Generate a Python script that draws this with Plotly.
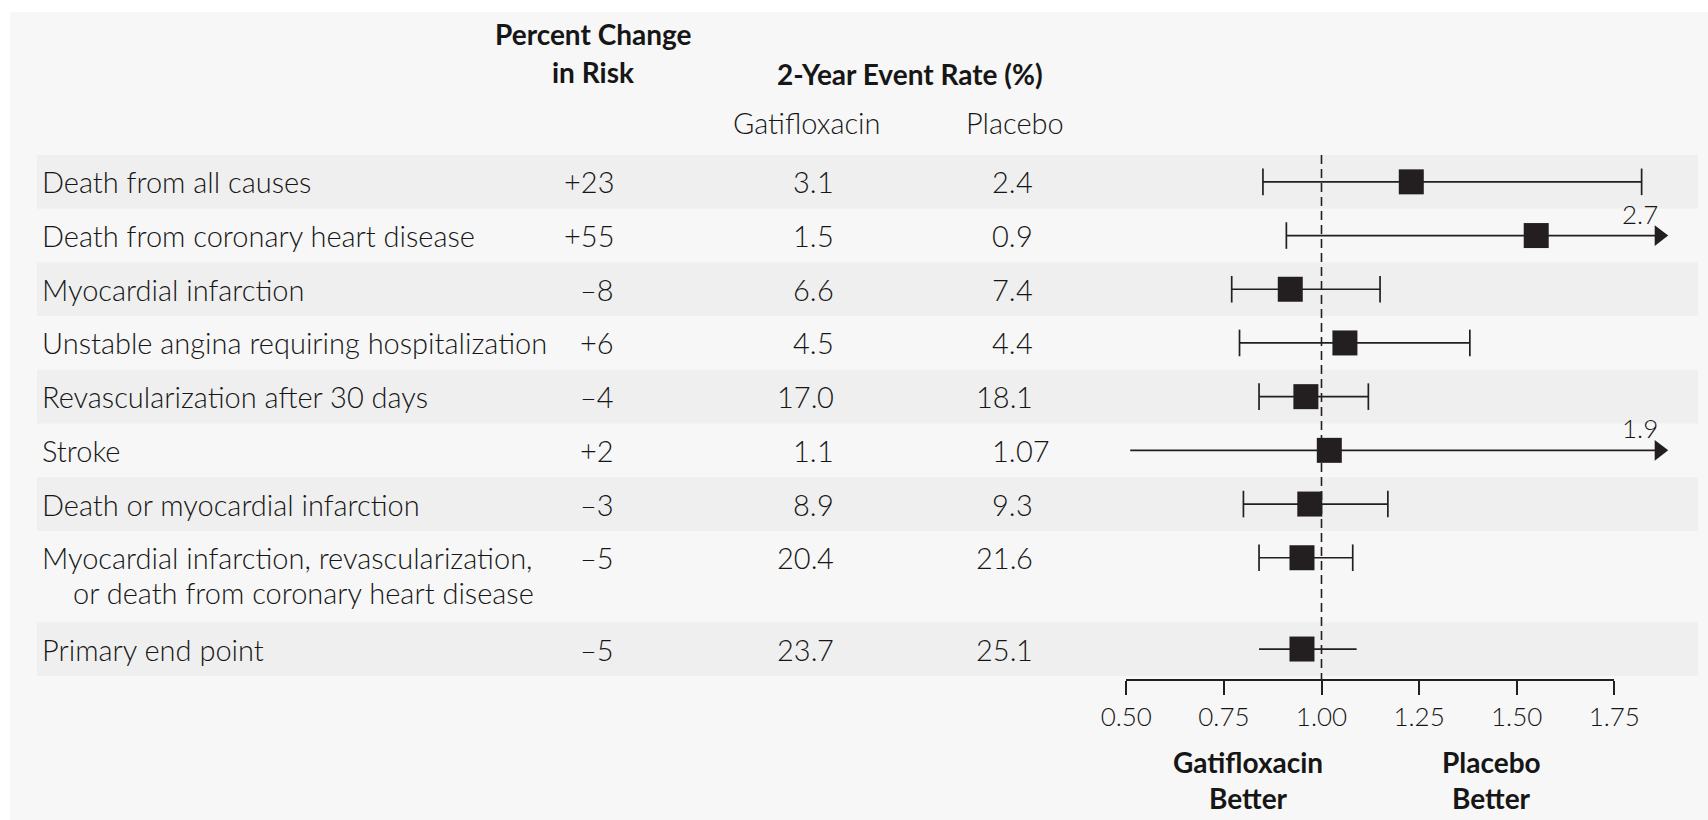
import plotly.graph_objects as go

# ---- data -------------------------------------------------------------
outcomes = [
    "Death from all causes",
    "Death from coronary heart disease",
    "Myocardial infarction",
    "Unstable angina requiring hospitalization",
    "Revascularization after 30 days",
    "Stroke",
    "Death or myocardial infarction",
    "Myocardial infarction, revascularization,\nor death from coronary heart disease",
    "Primary end point",
]
pct_change = [23, 55, -8, 6, -4, 2, -3, -5, -5]
rate_gatifloxacin = [3.1, 1.5, 6.6, 4.5, 17.0, 1.1, 8.9, 20.4, 23.7]
rate_placebo = [2.4, 0.9, 7.4, 4.4, 18.1, 1.07, 9.3, 21.6, 25.1]
ci_lower = [0.85, 0.91, 0.77, 0.79, 0.84, 0.51, 0.80, 0.84, 0.84]
ci_upper = [1.82, 2.7, 1.15, 1.38, 1.12, 1.9, 1.17, 1.08, 1.09]
lower_cap = [True, True, True, True, True, False, True, True, False]
upper_cap = [True, True, True, True, True, True, True, True, False]
tick_values = [0.50, 0.75, 1.00, 1.25, 1.50, 1.75]
tick_labels = ["0.50", "0.75", "1.00", "1.25", "1.50", "1.75"]

hazard_ratio = [1 + p / 100 for p in pct_change]

# ---- layout constants -------------------------------------------------
W, H = 1708, 820
TXT = "#161616"
INK = "#231f20"
FONT = "Lato"
FS = 29
REG = 300
BOLD = 700

X_ONE = 1321.5          # pixel of ratio 1.00
PX_UNIT = 390.4         # pixels per ratio unit
AXIS_Y = 680
ARROW_LIMIT = 1.85      # CIs beyond this are drawn with an arrow
ARROW_END = 1.865

ROW_TOP = 155
ROW_UNIT = 53.7
LINE_GAP = 35

# row geometry (top, height, center of first line)
row_top, row_mid, row_bot = [], [], []
y = ROW_TOP
for lab in outcomes:
    n = lab.count("\n") + 1
    h = ROW_UNIT * (1 + 0.7 * (n - 1))
    row_top.append(y)
    row_mid.append(y + ROW_UNIT / 2)
    row_bot.append(y + h)
    y += h


def px(xp):
    return xp / W


fig = go.Figure()

# confidence-interval shafts
xs, ys = [], []
for lo, hi, ym in zip(ci_lower, ci_upper, row_mid):
    xs += [lo, min(hi, ARROW_END), None]
    ys += [ym, ym, None]
fig.add_trace(go.Scatter(x=xs, y=ys, mode="lines",
                         line=dict(color=INK, width=1.7),
                         hoverinfo="skip", showlegend=False))

# end caps
cx, cy = [], []
for lo, hi, ym, lc, uc in zip(ci_lower, ci_upper, row_mid, lower_cap, upper_cap):
    if lc:
        cx.append(lo); cy.append(ym)
    if uc and hi <= ARROW_LIMIT:
        cx.append(hi); cy.append(ym)
fig.add_trace(go.Scatter(x=cx, y=cy, mode="markers",
                         marker=dict(symbol="line-ns", size=19,
                                     line=dict(color=INK, width=1.7)),
                         hoverinfo="skip", showlegend=False))

# arrowheads for truncated intervals
ax_, ay_ = [], []
for hi, ym in zip(ci_upper, row_mid):
    if hi > ARROW_LIMIT:
        ax_.append(ARROW_END); ay_.append(ym)
fig.add_trace(go.Scatter(x=ax_, y=ay_, mode="markers",
                         marker=dict(symbol="triangle-right", size=18, color=INK,
                                     line=dict(width=0)),
                         hoverinfo="skip", showlegend=False))

# point estimates
fig.add_trace(go.Scatter(x=hazard_ratio, y=row_mid, mode="markers",
                         marker=dict(symbol="square", size=25, color=INK,
                                     line=dict(width=0)),
                         hoverinfo="skip", showlegend=False))

# reference line at 1.00 on the tick axis
fig.add_trace(go.Scatter(x=[1, 1], y=[ROW_TOP, AXIS_Y], xaxis="x2", yaxis="y",
                         mode="lines",
                         line=dict(color=INK, width=1.6, dash="9px,5px"),
                         hoverinfo="skip", showlegend=False))

# ---- background panel and row bands ------------------------------------
shapes = [dict(type="rect", xref="paper", yref="y", x0=px(10), x1=1.0,
               y0=12, y1=H, fillcolor="#f7f7f7", line=dict(width=0), layer="below")]
for i in range(0, len(outcomes), 2):
    shapes.append(dict(type="rect", xref="paper", yref="y", x0=px(37), x1=px(1698),
                       y0=row_top[i], y1=row_bot[i], fillcolor="#efefef",
                       line=dict(width=0), layer="below"))

# ---- table text ----------------------------------------------------------
ann = []


def text(x, y, s, anchor="left", bold=False, size=FS, xref="paper"):
    ann.append(dict(x=x, y=y, xref=xref, yref="y", text=s, showarrow=False,
                    xanchor=anchor, yanchor="middle", borderpad=0,
                    font=dict(family=FONT, size=size, color=TXT,
                              weight=BOLD if bold else REG)))


# headers
text(px(593), 34, "Percent Change", "center", bold=True, size=28)
text(px(593), 72, "in Risk", "center", bold=True, size=28)
text(px(910), 74, "2-Year Event Rate (%)", "center", bold=True, size=28)
text(px(807), 122, "Gatifloxacin", "center")
text(px(1015), 122, "Placebo", "center")


def decimal_aligned(xdot, ym, v):
    # integer part and point end at the column's decimal line, decimals follow
    whole, frac = str(v).split(".")
    text(px(xdot + 3), ym, whole + ".", "right")
    text(px(xdot + 1), ym, frac, "left")


for i, lab in enumerate(outcomes):
    ym = row_mid[i]
    for j, line in enumerate(lab.split("\n")):
        text(px(41 + (31 if j else 0)), ym + j * LINE_GAP, line, "left")
    p = pct_change[i]
    text(px(615), ym, f"+{p}" if p > 0 else f"\u2013{abs(p)}", "right")
    decimal_aligned(815, ym, rate_gatifloxacin[i])
    decimal_aligned(1014, ym, rate_placebo[i])
    if ci_upper[i] > ARROW_LIMIT:
        ann.append(dict(x=ARROW_END, y=ym - 22, xref="x", yref="y",
                        text=str(ci_upper[i]), showarrow=False, borderpad=0,
                        xanchor="right", yanchor="middle",
                        font=dict(family=FONT, size=26, color=TXT, weight=REG)))

# favour labels
text(px(1248), 762, "Gatifloxacin", "center", bold=True, size=28)
text(px(1248), 798, "Better", "center", bold=True, size=28)
text(px(1491), 762, "Placebo", "center", bold=True, size=28)
text(px(1491), 798, "Better", "center", bold=True, size=28)

fig.update_layout(
    width=W, height=H,
    autosize=False,
    margin=dict(l=0, r=0, t=0, b=0, pad=0, autoexpand=False),
    paper_bgcolor="white",
    plot_bgcolor="rgba(0,0,0,0)",
    showlegend=False,
    shapes=shapes,
    annotations=ann,
    xaxis=dict(domain=[0, 1],
               range=[1 - X_ONE / PX_UNIT, 1 + (W - X_ONE) / PX_UNIT],
               visible=False, fixedrange=True, automargin=False),
    xaxis2=dict(domain=[px(X_ONE - 0.5 * PX_UNIT), px(X_ONE + 0.75 * PX_UNIT)],
                range=[0.5, 1.75], anchor="free", position=1 - AXIS_Y / H,
                showline=True, linecolor=INK, linewidth=1.6,
                ticks="outside", ticklen=14, tickwidth=1.6, tickcolor=INK,
                tickvals=tick_values, ticktext=tick_labels,
                tickfont=dict(family=FONT, size=26, color=TXT, weight=REG),
                showgrid=False, zeroline=False, fixedrange=True, automargin=False),
    yaxis=dict(domain=[0, 1], range=[H, 0], visible=False, fixedrange=True,
               automargin=False),
)

fig.write_html("out.html")
